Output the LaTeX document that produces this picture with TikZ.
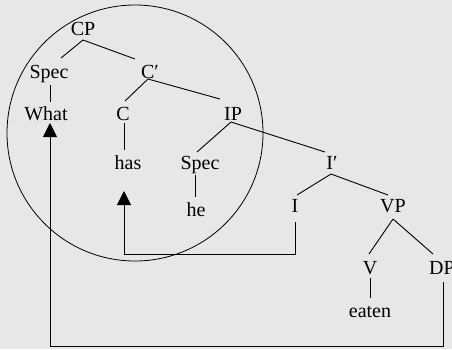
\documentclass[tikz,border=0pt]{standalone}
\usepackage{fontspec}
\setmainfont{Liberation Serif}
\usetikzlibrary{arrows.meta}
\definecolor{bg}{HTML}{E6E7E8}
\begin{document}
\begin{tikzpicture}[x=1pt,y=-1pt,
  lbl/.style={anchor=base,inner sep=0pt,font=\fontsize{20}{24}\selectfont},
  edge/.style={line width=0.9pt,black},
  mv/.style={line width=0.9pt,black,-{Triangle[width=14pt,length=14pt]}}]
\fill[bg] (0,0) rectangle (452,349);
\useasboundingbox (0,0) rectangle (452,349);
\draw[line width=0.8pt] (135,133) circle[radius=128pt];
\node[lbl] (CP) at (83,35) {CP};
\node[lbl] (SpecA) at (49,78) {Spec};
\node[lbl] (Cbar) at (150,78) {C′};
\node[lbl] (What) at (46,120) {What};
\node[lbl] (C) at (123,120) {C};
\node[lbl] (IP) at (233,120) {IP};
\node[lbl] (has) at (128,169) {has};
\node[lbl] (SpecB) at (200,169) {Spec};
\node[lbl] (he) at (196,216) {he};
\node[lbl] (Ibar) at (332,169) {I′};
\node[lbl] (I) at (295,212) {I};
\node[lbl] (VP) at (393,212) {VP};
\node[lbl] (V) at (370,274) {V};
\node[lbl] (DP) at (442,274) {DP};
\node[lbl] (eaten) at (370,317) {eaten};
% tree edges
\draw[edge] ([shift={(0,5)}]CP.base) -- ([shift={(12,-20)}]SpecA.base);
\draw[edge] ([shift={(0,5)}]CP.base) -- ([shift={(-15,-19)}]Cbar.base);
\draw[edge] ([shift={(1,7)}]SpecA.base) -- ([shift={(4,-18)}]What.base);
\draw[edge] ([shift={(-2,1)}]Cbar.base) -- ([shift={(2,-19)}]C.base);
\draw[edge] ([shift={(-2,1)}]Cbar.base) -- ([shift={(-13,-21)}]IP.base);
\draw[edge] ([shift={(1,3)}]C.base) -- ([shift={(-4,-19)}]has.base);
\draw[edge] ([shift={(-2,2)}]IP.base) -- ([shift={(-3,-17)}]SpecB.base);
\draw[edge] ([shift={(-2,2)}]IP.base) -- ([shift={(-7,-17)}]Ibar.base);
\draw[edge] ([shift={(-5,6)}]SpecB.base) -- ([shift={(-1,-19)}]he.base);
\draw[edge] ([shift={(-1,5)}]Ibar.base) -- ([shift={(2,-17)}]I.base);
\draw[edge] ([shift={(-1,5)}]Ibar.base) -- ([shift={(-5,-17)}]VP.base);
\draw[edge] ([shift={(0,7)}]VP.base) -- ([shift={(-1,-20)}]V.base);
\draw[edge] ([shift={(0,7)}]VP.base) -- ([shift={(-9,-20)}]DP.base);
\draw[edge] ([shift={(0,4)}]V.base) -- ([shift={(0,-19)}]eaten.base);
% movement arrows
\draw[mv] ([shift={(0,10)}]I.base) |- (124,254) -- ([shift={(-4,11)}]has.base |- 0,180);
\draw[mv] ([shift={(1,8)}]DP.base) |- (50,346) -- ([shift={(4,3)}]What.base);
\end{tikzpicture}
\end{document}
